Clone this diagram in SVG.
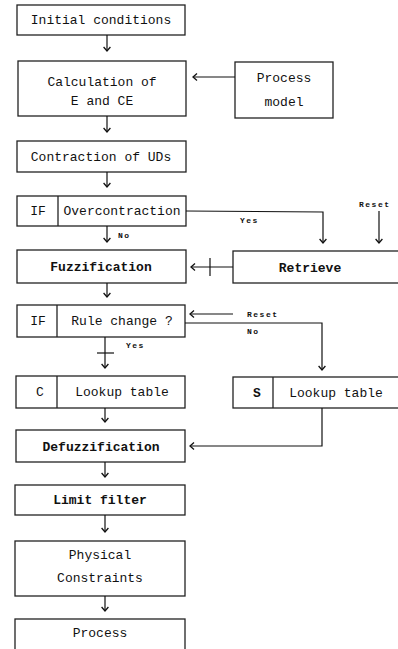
<svg xmlns="http://www.w3.org/2000/svg" width="398" height="649" viewBox="0 0 398 649">
<defs>
<marker id="ah" markerWidth="8" markerHeight="8" refX="7" refY="4" orient="auto" markerUnits="userSpaceOnUse" viewBox="0 0 8 8">
<path d="M3,0.6 L7,4 L3,7.4" fill="none" stroke="#111" stroke-width="1.3"/>
</marker>
</defs>
<style>
.box{fill:#fff;stroke:#222;stroke-width:1.3}
.t{font-family:"Liberation Mono","DejaVu Sans Mono",monospace;font-size:13px;fill:#111;text-anchor:middle}
.b{font-weight:bold}
.lbl{font-family:"Liberation Mono","DejaVu Sans Mono",monospace;font-size:8px;font-weight:bold;fill:#111;letter-spacing:1.5px}
.c{fill:none;stroke:#111;stroke-width:1.2}
</style>
<rect width="398" height="649" fill="#fff"/>
<g id="n-initial"><rect class="box" x="17" y="5" width="168" height="30"/><text class="t" x="101" y="24">Initial conditions</text></g>
<g id="n-calc"><rect class="box" x="18" y="61" width="168" height="55"/><text class="t" x="102" y="86">Calculation of</text><text class="t" x="102" y="105">E and CE</text></g>
<g id="n-model"><rect class="box" x="235" y="62" width="98" height="56"/><text class="t" x="284" y="82">Process</text><text class="t" x="284" y="106">model</text></g>
<g id="n-contract"><rect class="box" x="17" y="141" width="169" height="31"/><text class="t" x="101" y="161">Contraction of UDs</text></g>
<g id="n-over"><rect class="box" x="17" y="196" width="169" height="30"/><line class="box" x1="58" y1="196" x2="58" y2="226"/><text class="t" x="38" y="215">IF</text><text class="t" x="122" y="215">Overcontraction</text></g>
<g id="n-fuzz"><rect class="box" x="17" y="250" width="169" height="33"/><text class="t b" x="101" y="271">Fuzzification</text></g>
<g id="n-retrieve"><rect class="box" x="233" y="251" width="175" height="32"/><text class="t b" x="310" y="272">Retrieve</text></g>
<g id="n-rule"><rect class="box" x="17" y="305" width="168" height="32"/><line class="box" x1="57" y1="305" x2="57" y2="337"/><text class="t" x="38" y="325">IF</text><text class="t" x="122" y="325">Rule change ?</text></g>
<g id="n-clookup"><rect class="box" x="16" y="376" width="169" height="32"/><line class="box" x1="57" y1="376" x2="57" y2="408"/><text class="t" x="40" y="396">C</text><text class="t" x="122" y="396">Lookup table</text></g>
<g id="n-slookup"><rect class="box" x="233" y="377" width="175" height="31"/><line class="box" x1="273" y1="377" x2="273" y2="408"/><text class="t b" x="257" y="397">S</text><text class="t" x="336" y="397">Lookup table</text></g>
<g id="n-defuzz"><rect class="box" x="16" y="430" width="169" height="32"/><text class="t b" x="101" y="451">Defuzzification</text></g>
<g id="n-limit"><rect class="box" x="15" y="485" width="170" height="30"/><text class="t b" x="100" y="504">Limit filter</text></g>
<g id="n-phys"><rect class="box" x="15" y="541" width="170" height="55"/><text class="t" x="100" y="559">Physical</text><text class="t" x="100" y="582">Constraints</text></g>
<g id="n-process"><rect class="box" x="15" y="619" width="170" height="40"/><text class="t" x="100" y="637">Process</text></g>
<g id="connectors">
<line class="c" x1="107" y1="35" x2="107" y2="51" marker-end="url(#ah)"/>
<line class="c" x1="235" y1="77" x2="193" y2="77" marker-end="url(#ah)"/>
<line class="c" x1="107" y1="116" x2="107" y2="132" marker-end="url(#ah)"/>
<line class="c" x1="107" y1="172" x2="107" y2="187" marker-end="url(#ah)"/>
<polyline class="c" points="186,211 323,212 323,243" marker-end="url(#ah)"/>
<line class="c" x1="379" y1="211" x2="379" y2="243" marker-end="url(#ah)"/>
<line class="c" x1="107" y1="226" x2="107" y2="242" marker-end="url(#ah)"/>
<line class="c" x1="233" y1="267" x2="191" y2="267" marker-end="url(#ah)"/>
<line class="c" x1="210" y1="258" x2="210" y2="276"/>
<line class="c" x1="107" y1="283" x2="107" y2="297" marker-end="url(#ah)"/>
<line class="c" x1="233" y1="314" x2="190" y2="314" marker-end="url(#ah)"/>
<polyline class="c" points="185,323 322,323 322,370" marker-end="url(#ah)"/>
<line class="c" x1="105" y1="337" x2="105" y2="368" marker-end="url(#ah)"/>
<line class="c" x1="97" y1="353" x2="114" y2="353"/>
<line class="c" x1="105" y1="408" x2="105" y2="422" marker-end="url(#ah)"/>
<polyline class="c" points="322,408 322,446 190,446" marker-end="url(#ah)"/>
<line class="c" x1="105" y1="462" x2="105" y2="477" marker-end="url(#ah)"/>
<line class="c" x1="105" y1="515" x2="105" y2="532" marker-end="url(#ah)"/>
<line class="c" x1="105" y1="596" x2="105" y2="611" marker-end="url(#ah)"/>
<text class="lbl" x="240" y="223">Yes</text>
<text class="lbl" x="118" y="238">No</text>
<text class="lbl" x="359" y="207">Reset</text>
<text class="lbl" x="247" y="317">Reset</text>
<text class="lbl" x="247" y="334">No</text>
<text class="lbl" x="126" y="348">Yes</text>
</g>
</svg>
